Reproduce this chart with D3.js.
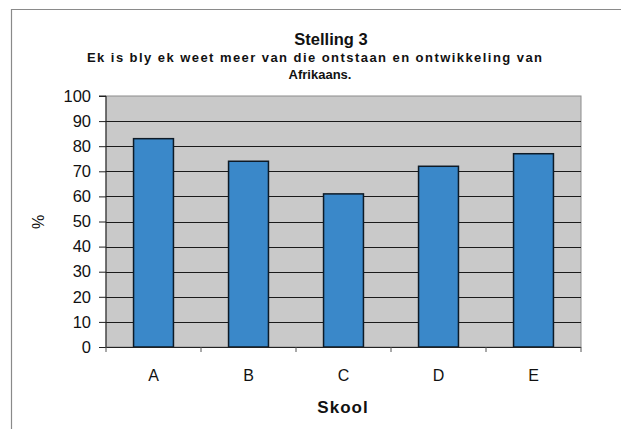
<!DOCTYPE html>
<html>
<head>
<meta charset="utf-8">
<script src="https://cdn.jsdelivr.net/npm/d3@7"></script>
<style>
  html, body { margin: 0; padding: 0; background: #fff; }
  svg { display: block; font-family: "Liberation Sans", Arial, sans-serif; }
</style>
</head>
<body>
<svg id="chart" width="621" height="429"></svg>
<script>
// Stelling 3 — share of learners per school who agree (%)
const categories = ["A", "B", "C", "D", "E"];
const values = [83, 74, 61, 72, 77];
const yTicks = [0, 10, 20, 30, 40, 50, 60, 70, 80, 90, 100];
const title = "Stelling 3";
const subtitleLines = ["Ek is bly ek weet meer van die ontstaan en ontwikkeling van", "Afrikaans."];
const xTitle = "Skool";
const yTitle = "%";

const svg = d3.select("#chart");
const W = 621, H = 429;
const plot = { left: 106, right: 581, top: 96, bottom: 347 };

// outer frame (top and left edges)
svg.append("line").attr("x1", 11).attr("x2", W).attr("y1", 9.5).attr("y2", 9.5)
  .attr("stroke", "#8a8a8a").attr("stroke-width", 1.2);
svg.append("line").attr("x1", 11.5).attr("x2", 11.5).attr("y1", 9).attr("y2", H)
  .attr("stroke", "#8a8a8a").attr("stroke-width", 1.2);

const x = d3.scaleBand().domain(categories).range([plot.left, plot.right]).paddingInner(0.58).paddingOuter(0.29);
const y = d3.scaleLinear().domain([0, 100]).range([plot.bottom, plot.top]);

// plot background
svg.append("rect").attr("x", plot.left).attr("y", plot.top)
  .attr("width", plot.right - plot.left).attr("height", plot.bottom - plot.top)
  .attr("fill", "#c9c9c9").attr("stroke", "#8c8c8c").attr("stroke-width", 1);

// horizontal gridlines
svg.append("g").selectAll("line").data(yTicks.filter(t => t > 0 && t < 100)).join("line")
  .attr("x1", plot.left).attr("x2", plot.right)
  .attr("y1", d => Math.round(y(d)) + 0.5).attr("y2", d => Math.round(y(d)) + 0.5)
  .attr("stroke", "#1a1a1a").attr("stroke-width", 1);

// bars
svg.append("g").selectAll("rect").data(values).join("rect")
  .attr("x", (d, i) => x(categories[i]))
  .attr("y", d => y(d))
  .attr("width", x.bandwidth())
  .attr("height", d => y(0) - y(d))
  .attr("fill", "#3a88c9").attr("stroke", "#0d1a26").attr("stroke-width", 1.5);

// y axis
const yAxis = d3.axisLeft(y).tickValues(yTicks).tickSize(7).tickPadding(8);
const gy = svg.append("g").attr("transform", `translate(${plot.left},0)`).call(yAxis);
gy.select(".domain").attr("stroke", "#222").attr("d", `M-7,${plot.top}H0V${plot.bottom}`);
gy.selectAll(".tick line").attr("stroke", "#222");
gy.selectAll(".tick text").attr("font-size", 16.5).attr("fill", "#111")
  .attr("font-family", "Liberation Sans, Arial, sans-serif");

// x axis with ticks between categories
const gx = svg.append("g").attr("transform", `translate(0,${plot.bottom})`);
gx.append("line").attr("x1", plot.left).attr("x2", plot.right).attr("y1", 0.5).attr("y2", 0.5)
  .attr("stroke", "#222");
const boundaries = d3.range(categories.length + 1).map(i => plot.left + (plot.right - plot.left) * i / categories.length);
gx.selectAll("line.tk").data(boundaries).join("line").attr("class", "tk")
  .attr("x1", d => d).attr("x2", d => d).attr("y1", 0).attr("y2", 5)
  .attr("stroke", "#555");
gx.selectAll("text").data(categories).join("text")
  .attr("x", d => x(d) + x.bandwidth() / 2).attr("y", 34)
  .attr("text-anchor", "middle").attr("font-size", 16).attr("fill", "#111").text(d => d);

// titles
svg.append("text").attr("x", 331).attr("y", 45).attr("text-anchor", "middle")
  .attr("font-size", 16.5).attr("font-weight", "bold").attr("fill", "#111").text(title);
subtitleLines.forEach((s, i) => {
  const t = svg.append("text").attr("x", i === 0 ? 87 : 320).attr("y", 62 + i * 17)
    .attr("text-anchor", i === 0 ? "start" : "middle")
    .attr("font-size", 13).attr("font-weight", "bold").attr("fill", "#111").text(s);
  if (i === 0) t.attr("textLength", 455).attr("lengthAdjust", "spacing");
});
svg.append("text").attr("x", 343).attr("y", 413).attr("text-anchor", "middle")
  .attr("font-size", 17).attr("font-weight", "bold").attr("letter-spacing", 1).attr("fill", "#111").text(xTitle);
svg.append("text").attr("transform", "translate(44,222) rotate(-90)").attr("text-anchor", "middle")
  .attr("font-size", 16).attr("fill", "#111").text(yTitle);
</script>
</body>
</html>
